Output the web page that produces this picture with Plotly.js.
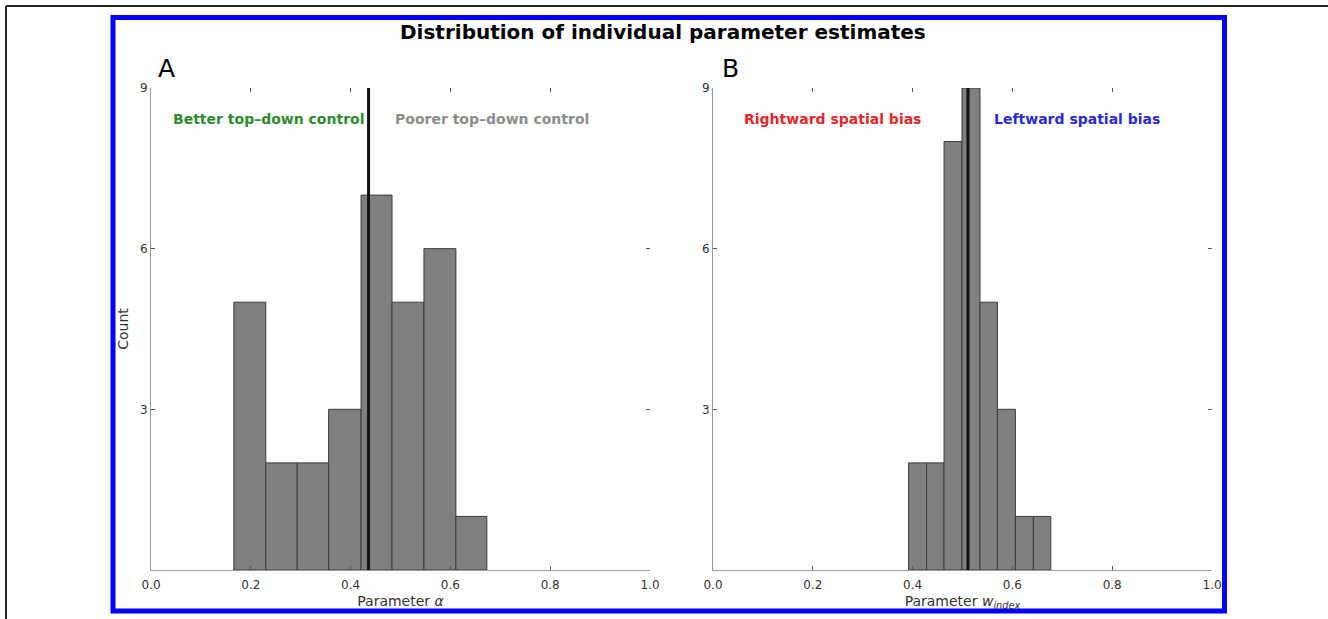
<!DOCTYPE html>
<html>
<head>
<meta charset="utf-8">
<script src="https://cdn.plot.ly/plotly-3.0.1.min.js"></script>
<style>
html,body{margin:0;padding:0;background:#fff;}
#chart{width:1328px;height:619px;}
</style>
</head>
<body>
<div id="chart"></div>
<script>
// ---- data ----
const edgesA = [0.166, 0.230, 0.293, 0.356, 0.421, 0.483, 0.547, 0.611, 0.673];
const countsA = [5, 2, 2, 3, 7, 5, 6, 1];
const medianA = 0.436;

const edgesB = [0.392, 0.428, 0.463, 0.499, 0.535, 0.570, 0.606, 0.642, 0.677];
const countsB = [2, 2, 8, 9, 5, 3, 1, 1];
const medianB = 0.511;

const xTicks = [0, 0.2, 0.4, 0.6, 0.8, 1.0];
const xTickText = ['0.0', '0.2', '0.4', '0.6', '0.8', '1.0'];
const yTicks = [3, 6, 9];
const yTickText = ['3', '6', '9'];

const titleText = 'Distribution of individual parameter estimates';
const labelsA = ['Better top\u2013down control', 'Poorer top\u2013down control'];
const labelsB = ['Rightward spatial bias', 'Leftward spatial bias'];

// ---- helpers ----
function mids(e){ const m=[]; for(let i=0;i<e.length-1;i++) m.push((e[i]+e[i+1])/2); return m; }
function widths(e){ const w=[]; for(let i=0;i<e.length-1;i++) w.push(e[i+1]-e[i]); return w; }

const W = 1328, H = 619;
const px = v => v / W;
const py = v => 1 - v / H;

const barStyle = {color: '#808080', line: {color: '#3a3a3a', width: 1}};

const traces = [
  {type: 'bar', x: mids(edgesA), y: countsA, width: widths(edgesA), marker: barStyle,
   xaxis: 'x', yaxis: 'y', hoverinfo: 'x+y', showlegend: false},
  {type: 'bar', x: mids(edgesB), y: countsB, width: widths(edgesB), marker: barStyle,
   xaxis: 'x2', yaxis: 'y2', hoverinfo: 'x+y', showlegend: false}
];

const tickFont = {family: 'DejaVu Sans', size: 12, color: '#333'};
const titleFont = {family: 'DejaVu Sans', size: 14, color: '#333'};
function xAxis(domain, anchor, title){
  const a = {
    domain: domain, anchor: anchor, range: [0, 1],
    tickvals: xTicks, ticktext: xTickText,
    ticks: 'inside', ticklen: 4, tickcolor: '#555',
    showline: true, linecolor: '#999', linewidth: 1,
    showgrid: false, zeroline: false,
    tickfont: tickFont, ticklabelstandoff: 4
  };
  if (title) a.title = {text: title, font: titleFont, standoff: 4};
  return a;
}
function yAxis(domain, anchor, title){
  const a = {
    domain: domain, anchor: anchor, range: [0, 9],
    tickvals: yTicks, ticktext: yTickText,
    ticks: 'inside', ticklen: 4, tickcolor: '#555',
    showline: true, linecolor: '#999', linewidth: 1,
    showgrid: false, zeroline: false,
    tickfont: tickFont
  };
  if (title) a.title = {text: title, font: titleFont, standoff: 8};
  return a;
}
// tick-only axes on the top and right (matplotlib-style inner ticks, no spine)
function topAxis(over, anchor){
  return {overlaying: over, side: 'top', anchor: anchor, range: [0, 1],
    tickvals: xTicks, ticks: 'inside', ticklen: 4, tickcolor: '#555',
    showticklabels: false, showline: false, showgrid: false, zeroline: false};
}
function rightAxis(over, anchor){
  return {overlaying: over, side: 'right', anchor: anchor, range: [0, 9],
    tickvals: yTicks, ticks: 'inside', ticklen: 4, tickcolor: '#555',
    showticklabels: false, showline: false, showgrid: false, zeroline: false};
}

const yDom = [1 - 570 / H, 1 - 88 / H];

// dummy invisible traces so the tick-only axes are drawn
traces.push({type: 'scatter', x: [], y: [], xaxis: 'x3', yaxis: 'y3', showlegend: false, hoverinfo: 'skip'});
traces.push({type: 'scatter', x: [], y: [], xaxis: 'x4', yaxis: 'y4', showlegend: false, hoverinfo: 'skip'});

const layout = {
  width: W, height: H,
  margin: {l: 0, r: 0, t: 0, b: 0},
  paper_bgcolor: '#fff', plot_bgcolor: '#fff',
  bargap: 0,
  font: {family: 'DejaVu Sans', color: '#333'},
  xaxis: xAxis([px(151), px(650)], 'y', 'Parameter <i>\u03b1</i>'),
  yaxis: yAxis(yDom, 'x', 'Count'),
  xaxis2: xAxis([px(713), px(1212)], 'y2', 'Parameter <i>w</i><sub><i>index</i></sub>'),
  yaxis2: yAxis(yDom, 'x2', ''),
  xaxis3: topAxis('x', 'y3'),
  yaxis3: rightAxis('y', 'x3'),
  xaxis4: topAxis('x2', 'y4'),
  yaxis4: rightAxis('y2', 'x4'),
  shapes: [
    // outer thin black frame lines (top and left)
    {type: 'line', xref: 'paper', yref: 'paper', x0: px(6), x1: 1, y0: py(6), y1: py(6), line: {color: '#222', width: 2}},
    {type: 'line', xref: 'paper', yref: 'paper', x0: px(6), x1: px(6), y0: py(6), y1: 0, line: {color: '#222', width: 2}},
    // blue border
    {type: 'rect', xref: 'paper', yref: 'paper', x0: px(113), x1: px(1224.5), y0: py(17.5), y1: py(611),
     line: {color: '#0000ff', width: 5}, fillcolor: 'rgba(0,0,0,0)'},
    // median lines
    {type: 'line', xref: 'x', yref: 'y', x0: medianA, x1: medianA, y0: 0, y1: 9, line: {color: '#111', width: 3}},
    {type: 'line', xref: 'x2', yref: 'y2', x0: medianB, x1: medianB, y0: 0, y1: 9, line: {color: '#111', width: 3}}
  ],
  annotations: [
    {text: '<b>' + titleText + '</b>', xref: 'paper', yref: 'paper', x: px(663), y: py(32),
     showarrow: false, font: {family: 'DejaVu Sans', size: 20, color: '#000'}, xanchor: 'center', yanchor: 'middle'},
    {text: 'A', xref: 'paper', yref: 'paper', x: px(156), y: py(68),
     showarrow: false, font: {family: 'DejaVu Sans', size: 25, color: '#000'}, xanchor: 'left', yanchor: 'middle'},
    {text: 'B', xref: 'paper', yref: 'paper', x: px(720), y: py(68),
     showarrow: false, font: {family: 'DejaVu Sans', size: 25, color: '#000'}, xanchor: 'left', yanchor: 'middle'},
    {text: '<b>' + labelsA[0] + '</b>', xref: 'x', yref: 'y', x: 0.235, y: 8.42, showarrow: false,
     font: {family: 'DejaVu Sans', size: 14, color: '#2e8b2e'}},
    {text: '<b>' + labelsA[1] + '</b>', xref: 'x', yref: 'y', x: 0.683, y: 8.42, showarrow: false,
     font: {family: 'DejaVu Sans', size: 14, color: '#8c8c8c'}},
    {text: '<b>' + labelsB[0] + '</b>', xref: 'x2', yref: 'y2', x: 0.24, y: 8.42, showarrow: false,
     font: {family: 'DejaVu Sans', size: 14, color: '#e8262a'}},
    {text: '<b>' + labelsB[1] + '</b>', xref: 'x2', yref: 'y2', x: 0.73, y: 8.42, showarrow: false,
     font: {family: 'DejaVu Sans', size: 14, color: '#2a2ad8'}}
  ]
};

Plotly.newPlot('chart', traces, layout, {displayModeBar: false, staticPlot: true});
</script>
</body>
</html>
